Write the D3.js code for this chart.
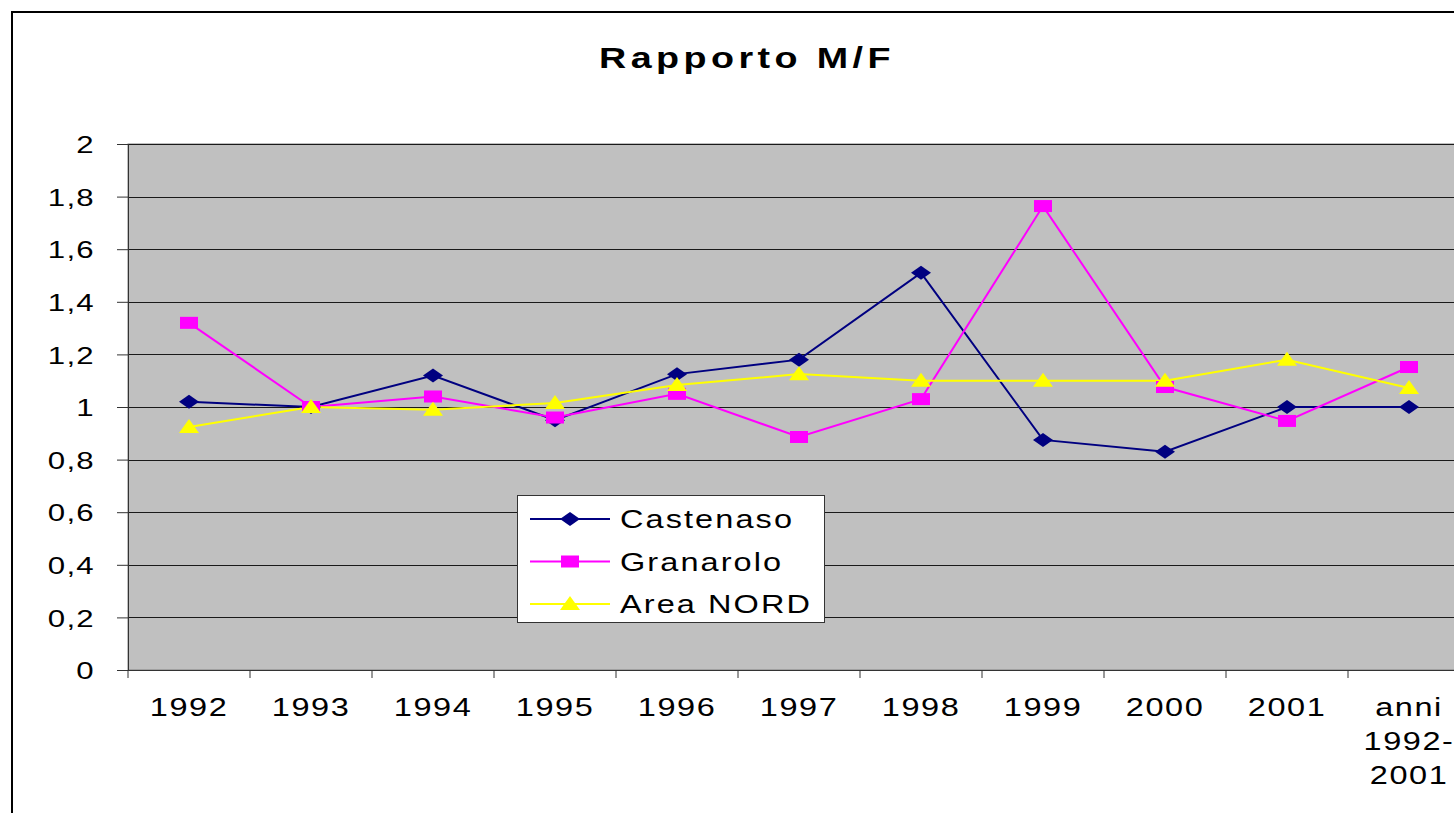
<!DOCTYPE html>
<html>
<head>
<meta charset="utf-8">
<script src="https://cdn.jsdelivr.net/npm/d3@7"></script>
<style>
  body { margin: 0; background: #fff; }
  svg { display: block; font-family: "Liberation Sans", Arial, sans-serif; }
</style>
</head>
<body>
<svg width="1454" height="813"></svg>
<script>
// categories and tick labels
var categories = ["1992", "1993", "1994", "1995", "1996", "1997", "1998", "1999", "2000", "2001", "anni 1992-2001"];
var xTickLabels = [["1992"], ["1993"], ["1994"], ["1995"], ["1996"], ["1997"], ["1998"], ["1999"], ["2000"], ["2001"], ["anni", "1992-", "2001"]];
var yTicks = [0, 0.2, 0.4, 0.6, 0.8, 1, 1.2, 1.4, 1.6, 1.8, 2];

// series values
var castenaso = [1.02, 1.0, 1.12, 0.95, 1.125, 1.18, 1.51, 0.875, 0.83, 1.0, 1.0];
var granarolo = [1.32, 1.0, 1.04, 0.96, 1.05, 0.886, 1.03, 1.764, 1.076, 0.947, 1.152];
var areaNord  = [0.924, 1.0, 0.99, 1.015, 1.084, 1.125, 1.10, 1.10, 1.10, 1.18, 1.072];

var series = [
  {name: "Castenaso", values: castenaso, color: "#000080", marker: "diamond"},
  {name: "Granarolo", values: granarolo, color: "#ff00ff", marker: "square"},
  {name: "Area NORD", values: areaNord, color: "#ffff00", marker: "triangle"}
];

// text in the picture is stretched sideways
var SX = 1.3;

var plot = {left: 128, top: 144, right: 1470, bottom: 670};

var svg = d3.select("svg");

// outer frame
svg.append("rect")
    .attr("x", 12).attr("y", 12)
    .attr("width", 1500).attr("height", 900)
    .attr("fill", "#fff")
    .attr("stroke", "#000")
    .attr("stroke-width", 2);

// title
svg.append("text")
    .attr("transform", "translate(747,68) scale(" + SX + ",1)")
    .attr("text-anchor", "middle")
    .attr("font-size", 29)
    .attr("font-weight", "bold")
    .attr("letter-spacing", 3.4)
    .text("Rapporto M/F");

var x = d3.scaleBand()
    .domain(categories)
    .range([plot.left, plot.right]);

var y = d3.scaleLinear()
    .domain([0, 2])
    .range([plot.bottom, plot.top]);

// plot background
svg.append("rect")
    .attr("x", plot.left).attr("y", plot.top)
    .attr("width", plot.right - plot.left)
    .attr("height", plot.bottom - plot.top)
    .attr("fill", "#c0c0c0")
    .attr("stroke", "#808080");

// gridlines
svg.append("g")
    .selectAll("line")
    .data(yTicks.slice(1))
    .enter()
    .append("line")
    .attr("x1", plot.left).attr("x2", plot.right)
    .attr("y1", function(d) { return Math.round(y(d)) + 0.5; })
    .attr("y2", function(d) { return Math.round(y(d)) + 0.5; })
    .attr("stroke", "#1a1a1a");

var fmt = d3.formatLocale({decimal: ",", thousands: ".", grouping: [3], currency: ["", ""]}).format("~g");

// y axis
var yAxis = svg.append("g")
    .attr("transform", "translate(" + plot.left + ",0)")
    .call(d3.axisLeft(y).tickValues(yTicks).tickSize(11).tickFormat(fmt));
yAxis.select(".domain").attr("stroke", "#333");
yAxis.selectAll(".tick line").attr("stroke", "#333");
yAxis.selectAll(".tick text")
    .attr("x", -33 / SX)
    .attr("dy", "0.36em")
    .attr("transform", "scale(" + SX + ",1)")
    .attr("font-size", 24)
    .attr("letter-spacing", 1)
    .attr("fill", "#000")
    .attr("font-family", null);

// x axis line and boundary ticks
var xAxis = svg.append("g");
xAxis.append("line")
    .attr("x1", plot.left).attr("x2", plot.right)
    .attr("y1", plot.bottom + 0.5).attr("y2", plot.bottom + 0.5)
    .attr("stroke", "#333");
xAxis.selectAll(".bt")
    .data(categories.concat(["end"]))
    .enter()
    .append("line")
    .attr("class", "bt")
    .attr("x1", function(d) { return d === "end" ? plot.right : x(d); })
    .attr("x2", function(d) { return d === "end" ? plot.right : x(d); })
    .attr("y1", plot.bottom).attr("y2", plot.bottom + 8)
    .attr("stroke", "#333");

var labels = xAxis.selectAll(".xl")
    .data(categories)
    .enter()
    .append("text")
    .attr("class", "xl")
    .attr("transform", function(d) { return "translate(" + (x(d) + x.bandwidth() / 2) + ",716) scale(" + SX + ",1)"; })
    .attr("text-anchor", "middle")
    .attr("font-size", 25)
    .attr("letter-spacing", 1.2);
labels.selectAll("tspan")
    .data(function(d, i) { return xTickLabels[i]; })
    .enter()
    .append("tspan")
    .attr("x", 0)
    .attr("dy", function(d, i) { return i === 0 ? 0 : 34; })
    .text(function(d) { return d; });

// marker shapes
function marker(g, type, color) {
  if (type === "diamond") {
    g.append("path").attr("d", "M-10,0L0,-7L10,0L0,7Z").attr("fill", color);
  } else if (type === "square") {
    g.append("rect").attr("x", -9).attr("y", -6).attr("width", 18).attr("height", 12).attr("fill", color);
  } else {
    g.append("path").attr("d", "M0,-8L10,6L-10,6Z").attr("fill", color);
  }
}

var line = d3.line()
    .x(function(d, i) { return x(categories[i]) + x.bandwidth() / 2; })
    .y(function(d) { return y(d); });

series.forEach(function(s) {
  svg.append("path")
      .datum(s.values)
      .attr("d", line)
      .attr("fill", "none")
      .attr("stroke", s.color)
      .attr("stroke-width", 2);
});

series.forEach(function(s) {
  svg.append("g")
      .selectAll("g")
      .data(s.values)
      .enter()
      .append("g")
      .attr("transform", function(d, i) {
        return "translate(" + (x(categories[i]) + x.bandwidth() / 2) + "," + y(d) + ")";
      })
      .each(function() { marker(d3.select(this), s.marker, s.color); });
});

// legend
var legend = svg.append("g").attr("transform", "translate(517,495)");
legend.append("rect")
    .attr("x", 0.5).attr("y", 0.5)
    .attr("width", 307).attr("height", 127)
    .attr("fill", "#fff")
    .attr("stroke", "#333");

var rows = legend.selectAll(".row")
    .data(series)
    .enter()
    .append("g")
    .attr("class", "row")
    .attr("transform", function(d, i) { return "translate(0," + (24 + i * 42.5) + ")"; });
rows.append("line")
    .attr("x1", 13).attr("x2", 93)
    .attr("stroke", function(d) { return d.color; })
    .attr("stroke-width", 2);
rows.append("g")
    .attr("transform", "translate(53,0)")
    .each(function(d) { marker(d3.select(this), d.marker, d.color); });
rows.append("text")
    .attr("transform", "translate(103,9) scale(" + SX + ",1)")
    .attr("font-size", 25)
    .attr("letter-spacing", 1.6)
    .text(function(d) { return d.name; });
</script>
</body>
</html>
